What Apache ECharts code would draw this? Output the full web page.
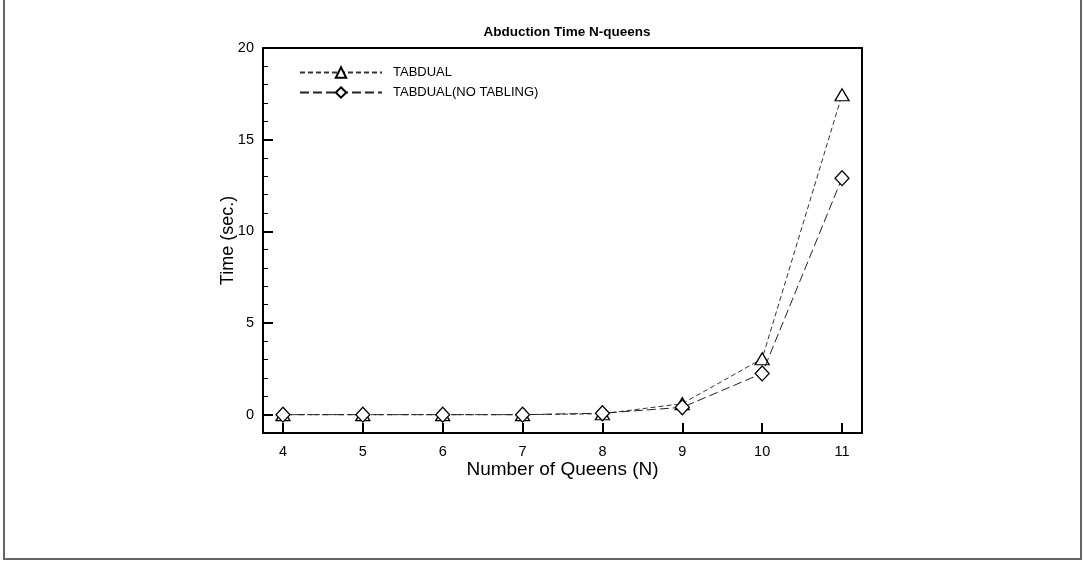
<!DOCTYPE html>
<html>
<head>
<meta charset="utf-8">
<script src="https://cdn.jsdelivr.net/npm/echarts@6/dist/echarts.min.js"></script>
<style>
html,body{margin:0;padding:0;background:#fff;}
#frame{position:absolute;left:3px;top:-2px;width:1075px;height:558px;border:2px solid #666;box-sizing:content-box;}
#chart{position:absolute;left:0;top:0;width:1084px;height:561px;}
</style>
</head>
<body>
<div id="frame"></div>
<div id="chart"></div>
<script>
const categories = [4, 5, 6, 7, 8, 9, 10, 11];
const tabdual = [0.0, 0.0, 0.0, 0.0, 0.05, 0.6, 3.05, 17.45];
const tabdualNoTabling = [0.0, 0.0, 0.0, 0.0, 0.08, 0.4, 2.25, 12.9];
const yMajor = [0, 5, 10, 15, 20];
const yMinor = [-1,1,2,3,4,6,7,8,9,11,12,13,14,16,17,18,19];

const font = '"Liberation Sans", Arial, Helvetica, sans-serif';
const chart = echarts.init(document.getElementById('chart'), null, {renderer: 'canvas'});
const grid = {left: 263, right: 222, top: 48, bottom: 128};
const mk = (arr) => arr.map((v, i) => [categories[i], v]);

chart.setOption({
  animation: false,
  backgroundColor: 'transparent',
  title: {
    text: 'Abduction Time N-queens',
    left: 562, top: 20, textAlign: 'center',
    textStyle: {fontFamily: font, fontSize: 13.5, fontWeight: 'bold', color: '#000'}
  },
  legend: {
    left: 294, top: 61, orient: 'vertical',
    itemWidth: 82, itemHeight: 13, itemGap: 7,
    textStyle: {fontFamily: font, fontSize: 13, color: '#000', padding: [0,0,0,6]},
    data: ['TABDUAL', 'TABDUAL(NO TABLING)']
  },
  grid: grid,
  xAxis: [{
    type: 'value', min: 3.75, max: 11.25,
    name: 'Number of Queens (N)', nameLocation: 'middle', nameGap: 27, nameMoveOverlap: false,
    nameTextStyle: {fontFamily: font, fontSize: 19, color: '#000'},
    axisLine: {show: true, onZero: false, lineStyle: {color: '#000', width: 2}},
    axisTick: {show: true, inside: true, length: 10, lineStyle: {color: '#000', width: 2}, customValues: categories},
    axisLabel: {fontFamily: font, fontSize: 14.5, color: '#000', margin: 11, customValues: categories},
    splitLine: {show: false}
  }, {
    type: 'value', min: 3.75, max: 11.25, position: 'top',
    axisLine: {show: true, onZero: false, lineStyle: {color: '#000', width: 2}},
    axisTick: {show: false}, axisLabel: {show: false}, splitLine: {show: false}
  }],
  yAxis: [{
    type: 'value', min: -1, max: 20,
    name: 'Time (sec.)', nameLocation: 'middle', nameGap: 26, nameRotate: 90, nameMoveOverlap: false,
    nameTextStyle: {fontFamily: font, fontSize: 18, color: '#000'},
    axisLine: {show: true, onZero: false, lineStyle: {color: '#000', width: 2}},
    axisTick: {show: true, inside: true, length: 10, lineStyle: {color: '#000', width: 2}, customValues: yMajor},
    axisLabel: {fontFamily: font, fontSize: 14.5, color: '#000', margin: 9, customValues: yMajor},
    splitLine: {show: false}
  }, {
    type: 'value', min: -1, max: 20, position: 'left',
    axisLine: {show: false},
    axisTick: {show: true, inside: true, length: 5, lineStyle: {color: '#000', width: 1}, customValues: yMinor},
    axisLabel: {show: false},
    splitLine: {show: false}
  }, {
    type: 'value', min: -1, max: 20, position: 'right',
    axisLine: {show: true, onZero: false, lineStyle: {color: '#000', width: 2}},
    axisTick: {show: false}, axisLabel: {show: false}, splitLine: {show: false}
  }],
  series: [{
    name: 'TABDUAL', type: 'line', data: mk(tabdual),
    symbol: 'triangle', symbolSize: [14, 12],
    lineStyle: {color: '#333', width: 1, type: [5, 3]},
    itemStyle: {color: '#fff', borderColor: '#000', borderWidth: 1.3},
    z: 3
  }, {
    name: 'TABDUAL(NO TABLING)', type: 'line', data: mk(tabdualNoTabling),
    symbol: 'diamond', symbolSize: [14, 15],
    lineStyle: {color: '#222', width: 1, type: [9, 4]},
    itemStyle: {color: '#fff', borderColor: '#000', borderWidth: 1.3},
    z: 4
  }]
});
</script>
</body>
</html>
